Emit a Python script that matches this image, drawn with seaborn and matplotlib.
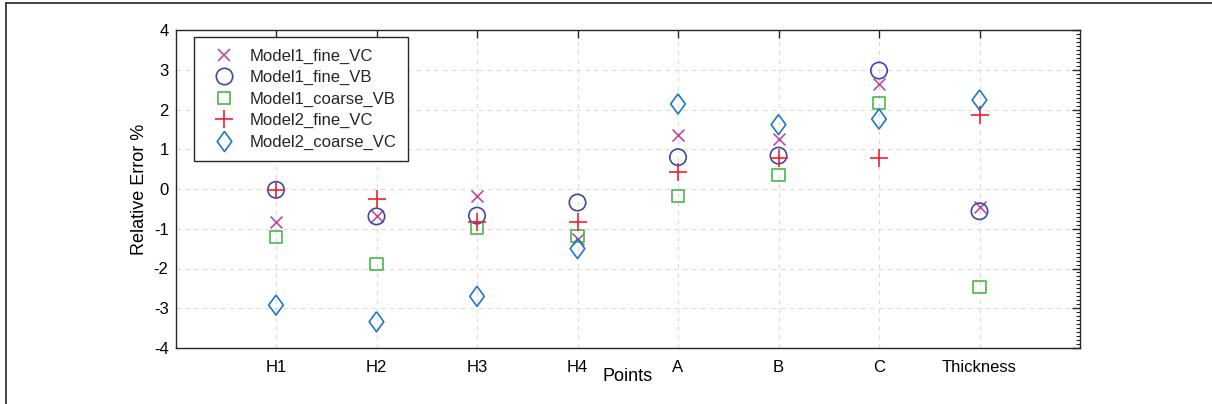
import numpy as np
import pandas as pd
import matplotlib
matplotlib.use("Agg")
import matplotlib.pyplot as plt
from matplotlib.lines import Line2D
from matplotlib.ticker import MultipleLocator
import seaborn as sns

points = ["H1", "H2", "H3", "H4", "A", "B", "C", "Thickness"]
model1_fine_vc = [-0.84, -0.69, -0.18, -1.25, 1.36, 1.26, 2.65, -0.46]
model1_fine_vb = [-0.02, -0.69, -0.67, -0.34, 0.80, 0.84, 2.98, -0.56]
model1_coarse_vb = [-1.21, -1.88, -0.98, -1.19, -0.17, 0.35, 2.17, -2.46]
model2_fine_vc = [-0.03, -0.25, -0.83, -0.84, 0.44, 0.79, 0.78, 1.85]
model2_coarse_vc = [-2.92, -3.34, -2.70, -1.50, 2.14, 1.62, 1.76, 2.24]

series_names = ["Model1_fine_VC", "Model1_fine_VB", "Model1_coarse_VB",
                "Model2_fine_VC", "Model2_coarse_VC"]
series_values = [model1_fine_vc, model1_fine_vb, model1_coarse_vb,
                 model2_fine_vc, model2_coarse_vc]

df = pd.DataFrame({
    "Points": points * len(series_names),
    "Error": np.concatenate(series_values),
    "Series": np.repeat(series_names, len(points)),
})

sns.set_theme(style="white")
plt.rcParams["font.family"] = ["Liberation Sans", "DejaVu Sans"]
plt.rcParams["axes.unicode_minus"] = False

diamond = [(0, 1), (0.73, 0), (0, -1), (-0.73, 0), (0, 1)]
styles = {
    "Model1_fine_VC": dict(marker="x", color="#BF4A9F", ms=8.6, filled=None),
    "Model1_fine_VB": dict(marker="o", color="#3D49A6", ms=11.8, filled=False),
    "Model1_coarse_VB": dict(marker="s", color="#4CB748", ms=8.8, filled=False),
    "Model2_fine_VC": dict(marker="+", color="#F2202E", ms=13, filled=None),
    "Model2_coarse_VC": dict(marker=diamond, color="#1F77C6", ms=14.4, filled=False),
}

fig = plt.figure(figsize=(12.12, 4.04), dpi=100)
ax = fig.add_axes([175.5 / 1212, 1 - 348 / 404, 904.5 / 1212, 318 / 404])

lw = 1.2
handles = []
for name in series_names:
    st = styles[name]
    sub = df[df["Series"] == name]
    kw = dict(marker=st["marker"], s=st["ms"] ** 2, linewidth=lw, zorder=3)
    if st["filled"] is False:
        kw.update(color=st["color"], facecolor="none", edgecolor=st["color"])
    else:
        kw.update(color=st["color"])
    sns.scatterplot(data=sub, x="Points", y="Error", ax=ax, legend=False, **kw)
    handles.append(Line2D([], [], linestyle="none", marker=st["marker"],
                          markersize=st["ms"], markeredgewidth=lw,
                          markeredgecolor=st["color"], markerfacecolor="none",
                          color=st["color"], label=name))

ax.set_xlim(-1, len(points))
ax.set_ylim(-4, 4)
ax.set_xticks(range(len(points)))
ax.set_xticklabels(points)
ax.yaxis.set_major_locator(MultipleLocator(1))
ax.yaxis.set_minor_locator(MultipleLocator(0.1))
ax.tick_params(axis="both", which="both", direction="in", top=True, right=True,
               colors="#262626", labelsize=12, labelcolor="black")
ax.tick_params(axis="both", which="major", length=6, width=1)
ax.tick_params(axis="y", which="minor", length=3, width=0.8)
ax.tick_params(axis="x", which="major", pad=9)
ax.tick_params(axis="y", which="major", pad=5)
ax.grid(True, which="major", linestyle=(0, (4, 4)), color="#dcdcdc", linewidth=0.8)
ax.set_axisbelow(True)
for sp in ax.spines.values():
    sp.set_color("#262626")
    sp.set_linewidth(1.0)

ax.set_xlabel("Points", fontsize=13, color="black")
ax.set_ylabel("Relative Error %", fontsize=13, color="black")
ax.xaxis.set_label_coords(0.5, -0.062)
ax.yaxis.set_label_coords(-0.030, 0.5)

leg = ax.legend(handles=handles, loc="upper left", bbox_to_anchor=(0.0205, 0.978),
                borderaxespad=0, fontsize=12, frameon=True, fancybox=False,
                edgecolor="#262626", framealpha=1, handlelength=2.2,
                handletextpad=0.45, labelspacing=0.38, borderpad=0.7)
leg.get_frame().set_linewidth(1.0)

# figure frame (top and left edges)
fig.add_artist(Line2D([6 / 1212, 6 / 1212], [0, 1 - 3 / 404], transform=fig.transFigure,
                      color="#262626", linewidth=1.2))
fig.add_artist(Line2D([6 / 1212, 1], [1 - 3 / 404, 1 - 3 / 404], transform=fig.transFigure,
                      color="#262626", linewidth=1.2))

fig.savefig("out.png", dpi=100)
